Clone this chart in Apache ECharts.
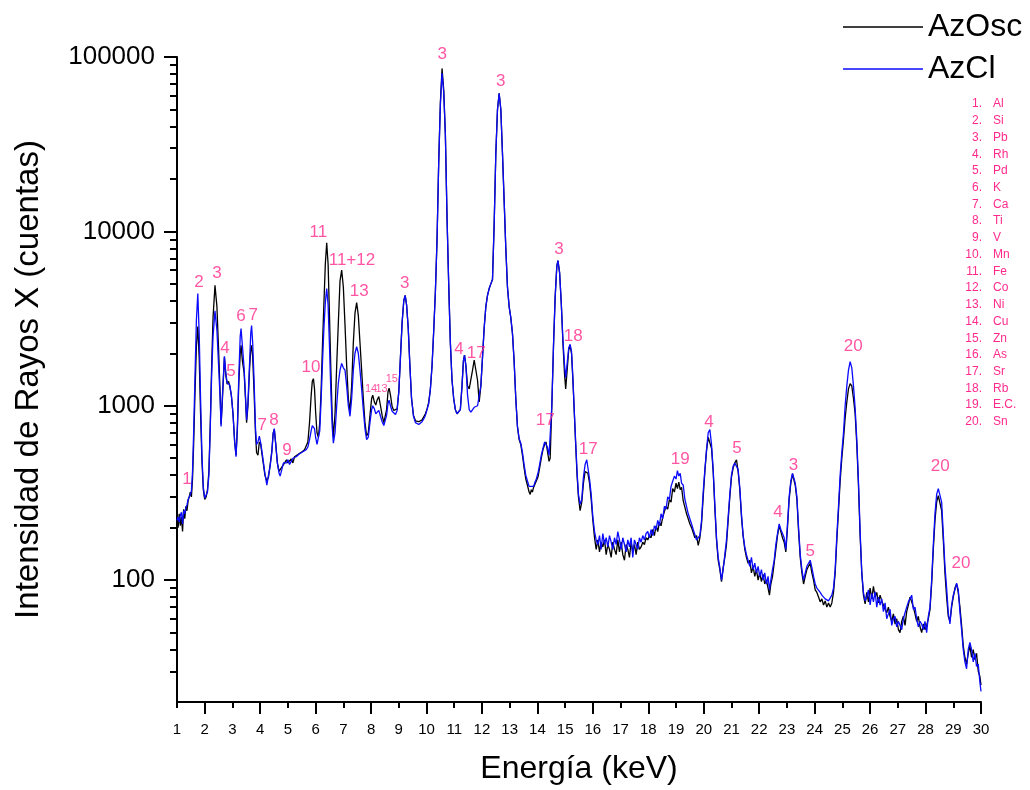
<!DOCTYPE html>
<html>
<head>
<meta charset="utf-8">
<title>Espectro XRF AzOsc / AzCl</title>
<script src="https://cdn.jsdelivr.net/npm/echarts@6/dist/echarts.min.js"></script>
<style>
  html, body { margin: 0; padding: 0; background: #ffffff; }
  #chart { width: 1030px; height: 790px; }
</style>
</head>
<body>
<div id="chart"></div>
<script>
// Energía (keV) de cada canal leído
const energia = [
  1.00, 1.04, 1.08, 1.12, 1.16, 1.20, 1.24, 1.28, 1.32, 1.36,
  1.40, 1.44, 1.48, 1.52, 1.56, 1.60, 1.65, 1.70, 1.75, 1.80,
  1.85, 1.90, 1.95, 2.00, 2.05, 2.10, 2.15, 2.20, 2.25, 2.30,
  2.37, 2.44, 2.50, 2.55, 2.59, 2.64, 2.71, 2.76, 2.81, 2.86,
  2.90, 2.96, 3.02, 3.08, 3.13, 3.18, 3.23, 3.28, 3.31, 3.36,
  3.42, 3.47, 3.51, 3.56, 3.62, 3.66, 3.69, 3.73, 3.78, 3.83,
  3.87, 3.92, 3.97, 4.02, 4.07, 4.12, 4.17, 4.24, 4.30, 4.36,
  4.42, 4.47, 4.51, 4.56, 4.62, 4.68, 4.72, 4.78, 4.84, 4.90,
  4.95, 5.00, 5.06, 5.12, 5.18, 5.24, 5.30, 5.36, 5.42, 5.48,
  5.54, 5.60, 5.66, 5.72, 5.78, 5.84, 5.88, 5.92, 5.96, 6.00,
  6.05, 6.10, 6.15, 6.20, 6.25, 6.30, 6.35, 6.40, 6.45, 6.50,
  6.55, 6.60, 6.64, 6.70, 6.76, 6.82, 6.88, 6.94, 7.00, 7.06,
  7.12, 7.18, 7.24, 7.30, 7.36, 7.42, 7.48, 7.54, 7.60, 7.66,
  7.72, 7.78, 7.84, 7.90, 7.96, 8.02, 8.06, 8.12, 8.17, 8.22,
  8.28, 8.34, 8.40, 8.46, 8.50, 8.56, 8.61, 8.65, 8.70, 8.76,
  8.82, 8.88, 8.94, 9.00, 9.06, 9.12, 9.18, 9.23, 9.28, 9.34,
  9.40, 9.46, 9.53, 9.60, 9.66, 9.72, 9.78, 9.84, 9.90, 9.96,
  10.02, 10.08, 10.14, 10.20, 10.26, 10.32, 10.38, 10.44, 10.50, 10.56,
  10.62, 10.68, 10.74, 10.80, 10.86, 10.92, 10.98, 11.04, 11.10, 11.16,
  11.22, 11.28, 11.33, 11.37, 11.42, 11.48, 11.54, 11.60, 11.66, 11.72,
  11.78, 11.84, 11.90, 11.96, 12.02, 12.08, 12.14, 12.20, 12.26, 12.32,
  12.38, 12.44, 12.50, 12.56, 12.62, 12.68, 12.74, 12.80, 12.86, 12.92,
  12.98, 13.04, 13.10, 13.16, 13.22, 13.28, 13.34, 13.40, 13.46, 13.52,
  13.58, 13.64, 13.70, 13.74, 13.78, 13.82, 13.86, 13.90, 13.96, 14.02,
  14.08, 14.14, 14.20, 14.26, 14.31, 14.36, 14.42, 14.46, 14.52, 14.58,
  14.64, 14.70, 14.74, 14.80, 14.86, 14.92, 14.98, 15.02, 15.08, 15.13,
  15.18, 15.23, 15.28, 15.32, 15.38, 15.43, 15.48, 15.54, 15.60, 15.66,
  15.72, 15.78, 15.82, 15.88, 15.94, 16.00, 16.06, 16.12, 16.18, 16.24,
  16.30, 16.36, 16.42, 16.48, 16.54, 16.60, 16.66, 16.72, 16.78, 16.84,
  16.90, 16.96, 17.02, 17.08, 17.14, 17.20, 17.26, 17.32, 17.38, 17.44,
  17.50, 17.56, 17.62, 17.68, 17.74, 17.80, 17.86, 17.92, 17.98, 18.04,
  18.10, 18.16, 18.22, 18.28, 18.34, 18.40, 18.46, 18.52, 18.58, 18.64,
  18.70, 18.76, 18.82, 18.88, 18.94, 19.00, 19.05, 19.10, 19.15, 19.20,
  19.26, 19.32, 19.38, 19.44, 19.50, 19.56, 19.62, 19.68, 19.74, 19.80,
  19.86, 19.92, 19.98, 20.04, 20.10, 20.16, 20.22, 20.28, 20.34, 20.40,
  20.46, 20.52, 20.58, 20.64, 20.70, 20.76, 20.82, 20.88, 20.94, 21.00,
  21.06, 21.12, 21.18, 21.24, 21.30, 21.36, 21.42, 21.48, 21.54, 21.60,
  21.66, 21.72, 21.78, 21.84, 21.90, 21.96, 22.02, 22.08, 22.14, 22.20,
  22.26, 22.32, 22.37, 22.42, 22.48, 22.54, 22.60, 22.66, 22.72, 22.78,
  22.84, 22.90, 22.96, 23.02, 23.08, 23.14, 23.20, 23.24, 23.30, 23.36,
  23.42, 23.48, 23.54, 23.60, 23.66, 23.72, 23.78, 23.84, 23.90, 23.96,
  24.02, 24.08, 24.14, 24.20, 24.26, 24.32, 24.38, 24.44, 24.50, 24.56,
  24.62, 24.68, 24.74, 24.80, 24.86, 24.92, 24.98, 25.04, 25.10, 25.16,
  25.22, 25.28, 25.34, 25.40, 25.46, 25.52, 25.58, 25.64, 25.70, 25.76,
  25.82, 25.88, 25.94, 26.00, 26.06, 26.12, 26.18, 26.24, 26.30, 26.36,
  26.42, 26.48, 26.54, 26.60, 26.66, 26.72, 26.78, 26.84, 26.90, 26.96,
  27.02, 27.08, 27.14, 27.20, 27.26, 27.32, 27.38, 27.44, 27.50, 27.56,
  27.62, 27.68, 27.74, 27.80, 27.86, 27.92, 27.98, 28.04, 28.10, 28.16,
  28.22, 28.28, 28.34, 28.40, 28.46, 28.52, 28.58, 28.64, 28.70, 28.76,
  28.82, 28.88, 28.94, 29.00, 29.06, 29.12, 29.18, 29.24, 29.30, 29.36,
  29.42, 29.48, 29.54, 29.60, 29.66, 29.72, 29.78, 29.84, 29.90, 29.96,
  30.00
];

// Cuentas de la muestra AzOsc (línea negra)
const azOsc = [
  215, 200, 240, 205, 230, 190, 255, 225, 265, 250,
  285, 300, 320, 300, 380, 600, 1200, 2200, 2850, 1900,
  900, 480, 330, 290, 300, 330, 420, 780, 1700, 3200,
  4900, 3700, 2100, 1250, 780, 1100, 1900, 1500, 1330, 1380,
  1300, 1150, 900, 620, 520, 750, 1350, 2000, 2220, 1800,
  1550, 1100, 800, 1000, 1650, 2100, 2220, 1900, 1200, 700,
  540, 520, 620, 600, 520, 460, 400, 370, 390, 460,
  550, 700, 730, 610, 470, 420, 410, 445, 460, 450,
  490, 470, 480, 495, 470, 510, 500, 525, 520, 540,
  535, 560, 570, 620, 800, 1150, 1380, 1430, 1250, 920,
  700, 660, 800, 1250, 2300, 3900, 6500, 8600, 6500, 3300,
  1600, 850, 660, 900, 1700, 3000, 5200, 6000, 4800, 2900,
  1700, 1100, 930, 1300, 2300, 3400, 3900, 3300, 2300, 1600,
  1100, 800, 670, 700, 880, 1100, 1150, 1050, 1010, 1080,
  1130, 1000, 880, 800, 780, 950, 1200, 1260, 1150, 990,
  940, 920, 960, 1200, 1900, 3000, 4000, 4290, 3800, 2800,
  1700, 1100, 880, 820, 800, 810, 790, 830, 850, 900,
  960, 1050, 1250, 1700, 2700, 4500, 9000, 25000, 55000, 86000,
  65000, 36000, 12000, 5000, 2300, 1400, 1100, 950, 900, 880,
  950, 1300, 1800, 1950, 1700, 1300, 1250, 1250, 1600, 1830,
  1800, 1400, 1050, 1300, 1900, 2800, 3700, 4300, 4700, 5000,
  5300, 11000, 28000, 50000, 62000, 50000, 28000, 15000, 8000, 4800,
  3700, 3200, 2600, 1800, 1100, 760, 640, 600, 520, 440,
  380, 350, 320, 310, 330, 320, 340, 335, 370, 390,
  440, 500, 560, 600, 620, 550, 480, 500, 1000, 2200,
  4200, 6300, 6800, 5800, 3900, 2300, 1500, 1250, 1650, 2100,
  2200, 2000, 1400, 1000, 600, 400, 300, 250, 280, 360,
  420, 420, 410, 360, 290, 220, 175, 150, 170, 145,
  165, 155, 170, 140, 160, 150, 135, 165, 150, 140,
  170, 145, 165, 140, 130, 160, 150, 135, 165, 145,
  160, 140, 165, 150, 155, 165, 160, 175, 170, 180,
  175, 195, 180, 205, 190, 215, 205, 230, 225, 265,
  255, 290, 280, 335, 320, 360, 335, 365, 330, 340,
  285, 280, 240, 245, 210, 200, 205, 175, 180, 158,
  175, 210, 300, 420, 550, 660, 670, 570, 420, 260,
  170, 130, 115, 98, 118, 135, 160, 220, 300, 390,
  440, 470, 490, 420, 330, 230, 180, 150, 135, 125,
  130, 110, 120, 105, 115, 100, 110, 98, 108, 95,
  100, 90, 82, 95, 105, 125, 150, 180, 205, 190,
  175, 165, 145, 200, 290, 360, 405, 400, 350, 290,
  190, 135, 110, 95, 105, 115, 120, 125, 110, 100,
  88, 85, 80, 75, 78, 72, 76, 70, 74, 70,
  74, 85, 110, 170, 250, 370, 500, 640, 850, 1050,
  1250, 1340, 1300, 1100, 900, 600, 350, 180, 110, 82,
  73, 85, 75, 90, 78, 92, 80, 85, 74, 82,
  76, 72, 68, 65, 70, 62, 58, 64, 56, 60,
  52, 50, 58, 62, 55, 66, 72, 80, 75, 70,
  64, 58, 62, 54, 50, 56, 52, 55, 60, 68,
  95, 150, 220, 280, 305, 300, 250, 170, 110, 80,
  62, 58, 70, 80, 90, 95, 85, 70, 55, 42,
  36, 33, 38, 42, 36, 40, 35, 38, 30, 28,
  25
];

// Cuentas de la muestra AzCl (línea azul)
const azCl = [
  220, 230, 215, 235, 245, 210, 250, 240, 260, 270,
  290, 295, 310, 325, 420, 700, 1500, 3100, 4400, 2600,
  1100, 520, 340, 295, 290, 320, 400, 750, 1500, 2500,
  3500, 2700, 1700, 1150, 760, 1150, 1920, 1550, 1350, 1360,
  1320, 1150, 900, 620, 510, 780, 1500, 2500, 2770, 2200,
  1650, 1150, 830, 1050, 1800, 2600, 2880, 2300, 1400, 750,
  600, 620, 670, 610, 540, 470, 410, 350, 400, 450,
  540, 690, 740, 600, 470, 410, 395, 430, 470, 480,
  470, 490, 460, 480, 500, 490, 510, 505, 530, 520,
  545, 540, 560, 580, 640, 720, 770, 780, 740, 660,
  600, 590, 720, 1100, 1800, 2800, 3900, 4700, 3800, 2200,
  1200, 750, 610, 700, 1000, 1350, 1600, 1750, 1650, 1600,
  1300, 1000, 870, 1100, 1600, 2000, 2180, 2000, 1600, 1250,
  950, 740, 640, 660, 800, 950, 1000, 960, 900, 920,
  940, 870, 810, 770, 760, 880, 1030, 1075, 1000, 930,
  920, 890, 940, 1200, 1900, 3000, 4000, 4290, 3800, 2800,
  1700, 1100, 870, 800, 790, 780, 800, 810, 840, 880,
  950, 1030, 1250, 1700, 2700, 4500, 9000, 25000, 53000, 81000,
  63000, 36000, 12000, 5000, 2300, 1400, 1100, 950, 900, 880,
  950, 1300, 1800, 1950, 1700, 1150, 950, 920, 940, 980,
  960, 1000, 1000, 1300, 1900, 2800, 3700, 4300, 4700, 5000,
  5300, 11000, 28000, 50000, 62000, 50000, 28000, 15000, 8000, 4800,
  3700, 3200, 2600, 1800, 1100, 760, 650, 610, 540, 460,
  400, 370, 345, 340, 345, 350, 345, 360, 380, 410,
  460, 520, 570, 620, 630, 580, 520, 510, 1000, 2200,
  4200, 6300, 6800, 5800, 3900, 2400, 1700, 1450, 1800, 2150,
  2250, 2050, 1450, 1010, 620, 420, 310, 272, 290, 390,
  460, 490, 480, 380, 310, 230, 190, 170, 160, 180,
  150, 185, 160, 175, 155, 180, 165, 150, 175, 160,
  190, 170, 150, 175, 160, 145, 170, 155, 175, 135,
  170, 160, 150, 175, 165, 180, 170, 185, 190, 175,
  195, 180, 205, 195, 220, 205, 240, 225, 265, 255,
  300, 290, 345, 350, 395, 380, 425, 395, 410, 360,
  350, 290, 285, 240, 235, 210, 195, 200, 170, 175,
  180, 220, 320, 430, 560, 700, 730, 600, 430, 270,
  175, 135, 118, 100, 115, 140, 170, 230, 310, 400,
  450, 470, 480, 430, 340, 240, 180, 155, 140, 140,
  120, 135, 115, 125, 110, 120, 105, 115, 100, 110,
  95, 105, 88, 100, 115, 130, 160, 185, 210, 195,
  185, 175, 150, 210, 300, 370, 410, 410, 360, 300,
  200, 140, 115, 100, 110, 120, 125, 130, 118, 105,
  95, 90, 88, 85, 82, 80, 78, 80, 76, 78,
  82, 90, 115, 180, 265, 400, 540, 700, 1000, 1300,
  1600, 1790, 1650, 1300, 970, 640, 370, 190, 110, 85,
  76, 80, 88, 72, 84, 75, 86, 70, 80, 72,
  78, 66, 74, 60, 64, 68, 55, 60, 62, 54,
  58, 55, 52, 60, 65, 70, 75, 78, 82, 68,
  70, 60, 54, 58, 56, 52, 58, 50, 62, 70,
  100, 160, 240, 310, 335, 340, 280, 185, 120, 90,
  65, 56, 72, 82, 88, 96, 88, 66, 52, 40,
  34, 31, 40, 44, 40, 34, 38, 32, 33, 26,
  23
];

// Etiquetas de los picos: texto y punto de anclaje (keV, cuentas)
const picoTexto = ['1', '2', '3', '4', '5', '6', '7', '7', '8', '9', '10', '11', '11+12', '13', '3',
  '3', '3', '4', '17', '3', '18', '17', '17', '19', '4', '5', '4', '3', '5', '20', '20', '20'];
const picoE = [1.36, 1.79, 2.44, 2.73, 2.95, 3.31, 3.75, 4.07, 4.50, 4.97, 5.83, 6.10, 7.31, 7.57, 9.21,
  10.57, 12.68, 11.17, 11.79, 14.78, 15.29, 14.28, 15.83, 19.15, 20.19, 21.20, 22.68, 23.24, 23.84, 25.39, 28.53, 29.28];
const picoCuentas = [381, 5070, 5710, 2130, 1575, 3245, 3300, 775, 828, 558, 1660, 9910, 6860, 4505, 5050,
  104000, 72960, 2104, 1995, 7930, 2494, 828, 565, 490, 806, 573, 244, 458, 146, 2188, 447, 125];

// Etiquetas pequeñas (Cu, Ni Kβ, Zn)
const picoChicoTexto = ['14', '13', '15'];
const picoChicoE = [8.00, 8.38, 8.75];
const picoChicoCuentas = [1244, 1244, 1419];

// Leyenda de elementos
const elementos = ['Al', 'Si', 'Pb', 'Rh', 'Pd', 'K', 'Ca', 'Ti', 'V', 'Mn',
  'Fe', 'Co', 'Ni', 'Cu', 'Zn', 'As', 'Sr', 'Rb', 'E.C.', 'Sn'];

// Marcas de los ejes
const ticksXMayores = [2, 4, 6, 8, 10, 12, 14, 16, 18, 20, 22, 24, 26, 28, 30];
const ticksXMenores = [1, 3, 5, 7, 9, 11, 13, 15, 17, 19, 21, 23, 25, 27, 29];
const ticksYMayores = [100, 1000, 10000, 100000];
const ticksYMenores = [30, 40, 50, 60, 70, 80, 90,
  200, 300, 400, 500, 600, 700, 800, 900,
  2000, 3000, 4000, 5000, 6000, 7000, 8000, 9000,
  20000, 30000, 40000, 50000, 60000, 70000, 80000, 90000];

const FUENTE = '"Liberation Sans", Arial, sans-serif';
const ROSA = '#ff2a8c';
const NEGRO = '#000000';
const AZUL = '#0a0aff';

const chart = echarts.init(document.getElementById('chart'), null, { renderer: 'canvas' });

const pares = (vals) => energia.map((e, i) => [e, vals[i]]);
const etiquetas = (textos, es, cs) => textos.map((t, i) => ({ name: t, value: [es[i], cs[i]] }));

const lineaEje = { lineStyle: { color: NEGRO, width: 2 } };

const graficoElementos = [];
elementos.forEach((el, i) => {
  const y = 104 + i * 16.73;
  graficoElementos.push({
    type: 'text', x: 982, y: y, silent: true,
    style: { text: (i + 1) + '.', align: 'right', verticalAlign: 'middle', fill: ROSA, fontSize: 12, fontFamily: FUENTE }
  });
  graficoElementos.push({
    type: 'text', x: 993, y: y, silent: true,
    style: { text: el, align: 'left', verticalAlign: 'middle', fill: ROSA, fontSize: 12, fontFamily: FUENTE }
  });
});

const option = {
  animation: false,
  backgroundColor: '#ffffff',
  textStyle: { fontFamily: FUENTE },
  grid: { left: 177, right: 49, top: 57, bottom: 85, containLabel: false },
  legend: {
    data: ['AzOsc', 'AzCl'],
    orient: 'vertical',
    left: 838,
    top: 6,
    icon: 'rect',
    itemWidth: 80,
    itemHeight: 1.5,
    itemGap: 10,
    textStyle: { fontSize: 32, color: NEGRO, fontFamily: FUENTE }
  },
  xAxis: [
    {
      type: 'value', min: 1, max: 30, interval: 1, position: 'bottom',
      name: 'Energía (keV)', nameLocation: 'middle', nameGap: 51,
      nameTextStyle: { fontSize: 32, color: NEGRO, fontFamily: FUENTE },
      axisLine: lineaEje,
      axisTick: { customValues: ticksXMayores, length: 12, lineStyle: { color: NEGRO, width: 2 } },
      axisLabel: { fontSize: 15, color: NEGRO, margin: 20, fontFamily: FUENTE },
      splitLine: { show: false }
    },
    {
      type: 'value', min: 1, max: 30, interval: 1, position: 'bottom',
      axisLine: { show: false },
      axisTick: { customValues: ticksXMenores, length: 6, lineStyle: { color: NEGRO, width: 2 } },
      axisLabel: { show: false },
      splitLine: { show: false }
    }
  ],
  yAxis: [
    {
      type: 'log', logBase: 10, min: 20, max: 100000, position: 'left',
      name: 'Intensidad de Rayos X (cuentas)', nameLocation: 'middle', nameGap: 132,
      nameTextStyle: { fontSize: 33, color: NEGRO, fontFamily: FUENTE },
      axisLine: lineaEje,
      axisTick: { customValues: ticksYMayores, length: 13, lineStyle: { color: NEGRO, width: 2 } },
      axisLabel: {
        customValues: ticksYMayores, fontSize: 26, color: NEGRO, margin: 22, fontFamily: FUENTE,
        formatter: (v) => String(Math.round(v))
      },
      splitLine: { show: false }
    },
    {
      type: 'log', logBase: 10, min: 20, max: 100000, position: 'left',
      axisLine: { show: false },
      axisTick: { customValues: ticksYMenores, length: 7, lineStyle: { color: NEGRO, width: 2 } },
      axisLabel: { show: false },
      splitLine: { show: false }
    }
  ],
  graphic: graficoElementos,
  series: [
    {
      name: 'AzOsc', type: 'line', data: pares(azOsc),
      xAxisIndex: 0, yAxisIndex: 0,
      showSymbol: false, symbol: 'none',
      lineStyle: { color: NEGRO, width: 1.3 }, itemStyle: { color: NEGRO },
      z: 2
    },
    {
      name: 'AzCl', type: 'line', data: pares(azCl),
      xAxisIndex: 0, yAxisIndex: 0,
      showSymbol: false, symbol: 'none',
      lineStyle: { color: AZUL, width: 1.3 }, itemStyle: { color: AZUL },
      z: 3
    },
    {
      name: 'picos', type: 'scatter', data: etiquetas(picoTexto, picoE, picoCuentas),
      xAxisIndex: 0, yAxisIndex: 0, symbolSize: 0, clip: false, silent: true, z: 5,
      label: { show: true, position: 'inside', formatter: '{b}', color: ROSA, fontSize: 17, fontFamily: FUENTE }
    },
    {
      name: 'picos menores', type: 'scatter', data: etiquetas(picoChicoTexto, picoChicoE, picoChicoCuentas),
      xAxisIndex: 0, yAxisIndex: 0, symbolSize: 0, clip: false, silent: true, z: 5,
      label: { show: true, position: 'inside', formatter: '{b}', color: ROSA, fontSize: 11, fontFamily: FUENTE }
    }
  ]
};

chart.setOption(option);
</script>
</body>
</html>
